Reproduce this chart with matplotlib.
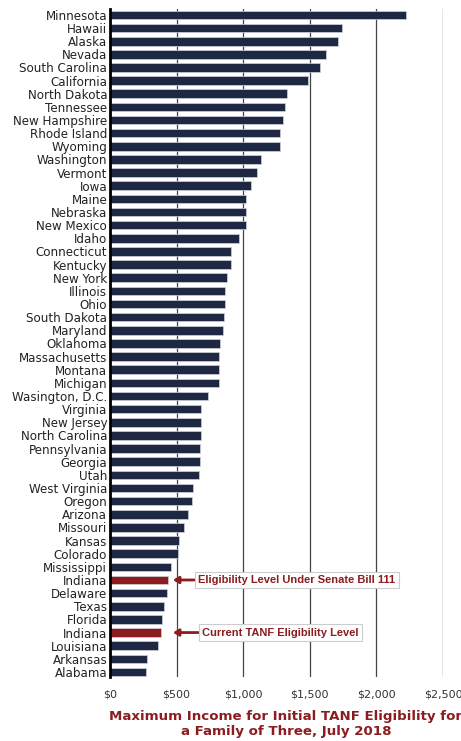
import matplotlib
matplotlib.use("Agg")
import matplotlib.pyplot as plt
import numpy as np

states = ["Minnesota", "Hawaii", "Alaska", "Nevada", "South Carolina", "California",
          "North Dakota", "Tennessee", "New Hampshire", "Rhode Island", "Wyoming",
          "Washington", "Vermont", "Iowa", "Maine", "Nebraska", "New Mexico", "Idaho",
          "Connecticut", "Kentucky", "New York", "Illinois", "Ohio", "South Dakota",
          "Maryland", "Oklahoma", "Massachusetts", "Montana", "Michigan",
          "Wasington, D.C.", "Virginia", "New Jersey", "North Carolina", "Pennsylvania",
          "Georgia", "Utah", "West Virginia", "Oregon", "Arizona", "Missouri", "Kansas",
          "Colorado", "Mississippi", "Indiana", "Delaware", "Texas", "Florida", "Indiana",
          "Louisiana", "Arkansas", "Alabama"]
income = [2224, 1739, 1714, 1624, 1574, 1484,
          1331, 1316, 1299, 1276, 1276,
          1136, 1104, 1061, 1021, 1021, 1019, 971,
          908, 911, 878, 866, 866, 858,
          846, 826, 818, 818, 816,
          736, 683, 683, 683, 678,
          673, 668, 621, 616, 586, 558, 518,
          513, 458, 438, 428, 403, 393, 381,
          360, 278, 268]
highlight = [43, 47]  # the two Indiana bars
notes = {43: "Eligibility Level Under Senate Bill 111",
         47: "Current TANF Eligibility Level"}
xticks = [0, 500, 1000, 1500, 2000, 2500]

navy = "#1f2842"
red = "#8b1c1f"

fig = plt.figure(figsize=(4.61, 7.41), dpi=100)
ax = fig.add_axes([0.2386, 0.0864, 0.7223, 0.9015])

colors = [red if i in highlight else navy for i in range(len(states))]
y = np.arange(len(states))
ax.barh(y, income, height=0.66, color=colors, edgecolor="#d0d3db", linewidth=0.5, zorder=3)

ax.set_xlim(0, 2500)
ax.set_ylim(len(states) - 0.62, -0.45)
ax.set_yticks(y)
ax.set_yticklabels(states, fontsize=8.6, color="#222222")
ax.set_xticks(xticks)
ax.set_xticklabels(["${:,}".format(v) for v in xticks], fontsize=8, color="#333333")
ax.tick_params(length=0, pad=2)
ax.tick_params(axis="x", pad=9)

ax.grid(axis="x", color="#444444", linewidth=0.9, zorder=0)
for s in ["top", "right", "bottom"]:
    ax.spines[s].set_visible(False)
ax.spines["left"].set_linewidth(2)
ax.spines["left"].set_color("black")
ax.spines["left"].set_zorder(4)

for i, txt in notes.items():
    xt = 1404 if i == 43 else 1280
    ax.annotate(txt, xy=(473, i), xytext=(xt, i), ha="center", va="center",
                fontsize=8, fontweight="bold", color=red, family="Liberation Sans",
                bbox=dict(boxstyle="square,pad=0.3", fc="white", ec="#cccccc", lw=0.8),
                arrowprops=dict(arrowstyle="-|>,head_width=0.25,head_length=0.4",
                                color=red, lw=2, shrinkA=0, shrinkB=0),
                zorder=5)

fig.text(0.62, 0.0236, "Maximum Income for Initial TANF Eligibility for\na Family of Three, July 2018",
         ha="center", va="center", fontsize=9.6, fontweight="bold", color=red,
         linespacing=1.2)

fig.savefig("out.png", dpi=100)
